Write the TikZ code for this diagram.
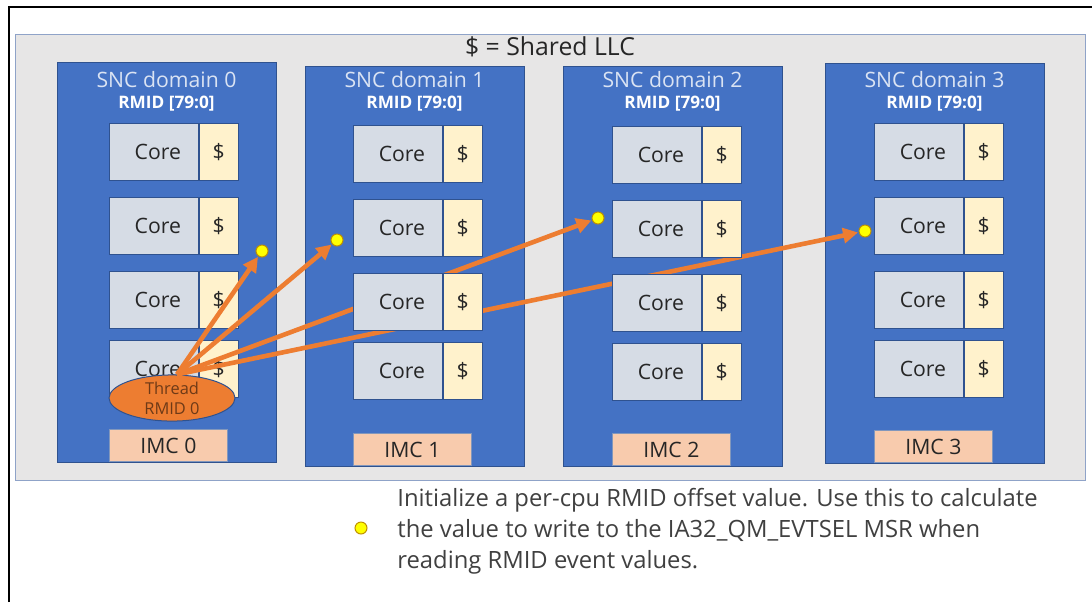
\documentclass[tikz,border=0pt]{standalone}
\usepackage{fontspec}
\setmainfont{Open Sans}
\usepackage{tikz}
\usetikzlibrary{arrows.meta, positioning, calc, shapes.geometric}

\definecolor{llcgray}{HTML}{E7E6E6}
\definecolor{llcline}{HTML}{8FA3C8}
\definecolor{sncblue}{HTML}{4472C4}
\definecolor{sncline}{HTML}{2F528F}
\definecolor{corefill}{HTML}{D6DCE5}
\definecolor{cachefill}{HTML}{FFF2CC}
\definecolor{imcfill}{HTML}{F8CBAD}
\definecolor{throrange}{HTML}{ED7D31}
\definecolor{thrtext}{HTML}{6E3A17}
\definecolor{dotyellow}{HTML}{FFFF00}
\definecolor{dotline}{HTML}{BF9000}
\definecolor{snclight}{HTML}{DAE3F3}

\begin{document}
\begin{tikzpicture}[x=0.5pt, y=-0.5pt,
  llcbox/.style={draw=llcline, fill=llcgray, line width=0.6pt, anchor=north west, minimum width=535pt, minimum height=223pt},
  sncbox/.style={draw=sncline, fill=sncblue, line width=0.5pt, anchor=north west, minimum width=109.5pt, minimum height=200pt},
  snctitle/.style={text=snclight, font=\fontsize{10.6}{12}\selectfont},
  rmidtitle/.style={text=white, font=\bfseries\fontsize{8.6}{10}\selectfont},
  corebox/.style={draw=sncline, fill=corefill, line width=0.4pt, anchor=north west, inner sep=0pt, minimum width=44.5pt, minimum height=28.5pt, font=\fontsize{10.6}{12}\selectfont, text=black!85},
  cachebox/.style={draw=sncline, fill=cachefill, line width=0.4pt, anchor=west, inner sep=0pt, minimum width=19.5pt, minimum height=28.5pt, font=\fontsize{10.6}{12}\selectfont, text=black!85},
  imcbox/.style={draw=sncline!60, fill=imcfill, line width=0.4pt, anchor=south west, inner sep=0pt, minimum width=59pt, minimum height=16pt, font=\fontsize{10.6}{12}\selectfont, text=black!85},
  thread/.style={ellipse, draw=sncline, fill=throrange, line width=0.5pt, inner sep=0pt, minimum width=63pt, minimum height=18pt, align=center, text=thrtext, font=\fontsize{8.2}{10}\selectfont},
  dotmark/.style={circle, draw=dotline, fill=dotyellow, line width=0.5pt, inner sep=0pt, minimum size=6pt},
  rmidarrow/.style={-{Triangle[length=7.5pt,width=7.5pt]}, draw=throrange, line width=2.3pt, shorten >=0.3pt},
]
  \useasboundingbox (0,0) rectangle (1092,602);
  \draw[line width=1pt] (9,602) -- (9,7) -- (1092,7);

  % shared LLC and the four SNC domains
  \node[llcbox] (llc) at (15,34) {};
  \node[font=\fontsize{12.4}{14}\selectfont, text=black!85] (llct) at (550,47) {\$ = Shared LLC};
  \foreach \d/\dx/\dt/\cx in {0/57/62/109, 1/305/66/353, 2/563/66/612, 3/825/63/874} {
    \node[sncbox] (snc\d) at (\dx,\dt) {};
    \node[snctitle] (snct\d) at (\dx+109.5,80) {SNC domain \d};
    \node[rmidtitle] (rmid\d) at (\dx+109.5,104) {RMID [79:0]};
    \node[imcbox] (imc\d) at (\cx,\dt+400) {IMC \d};
  }

  % cores of domain 0 (under the arrows)
  \foreach \r/\ry in {1/123, 2/197, 3/271, 4/340} {
    \node[corebox] (core0-\r) at (109,\ry) {\hspace*{4pt}Core};
    \node[cachebox] (cache0-\r) at (core0-\r.east) {\$};
  }

  \node[thread] (thr) at (172,398) {Thread\\RMID 0};
  \coordinate (src) at ([xshift=2.5pt]thr.north);

  \node[dotmark] (dot0) at (262,251) {};
  \node[dotmark] (dot1) at (337,240) {};
  \node[dotmark] (dot2) at (598,218) {};
  \node[dotmark] (dot3) at (865,231) {};
  \foreach \k in {0,...,3}
    \draw[rmidarrow] (src) -- (dot\k);

  % cores of domains 1-3 (over the arrows)
  \foreach \d/\cx/\dy in {1/353/2, 2/612/3, 3/874/0}
    \foreach \r/\ry in {1/123, 2/197, 3/271, 4/340} {
      \node[corebox] (core\d-\r) at (\cx,\ry+\dy) {\hspace*{4pt}Core};
      \node[cachebox] (cache\d-\r) at (core\d-\r.east) {\$};
    }

  % legend
  \node[dotmark] (legdot) at (361,528) {};
  \node[anchor=west, inner sep=0pt, align=left, text=black!75, font=\fontsize{11.9}{15.5}\selectfont] (legtxt) at (397,531)
    {Initialize a per-cpu RMID offset value. Use this to calculate\\the value to write to the IA32\_QM\_EVTSEL MSR when\\reading RMID event values.};
\end{tikzpicture}
\end{document}
